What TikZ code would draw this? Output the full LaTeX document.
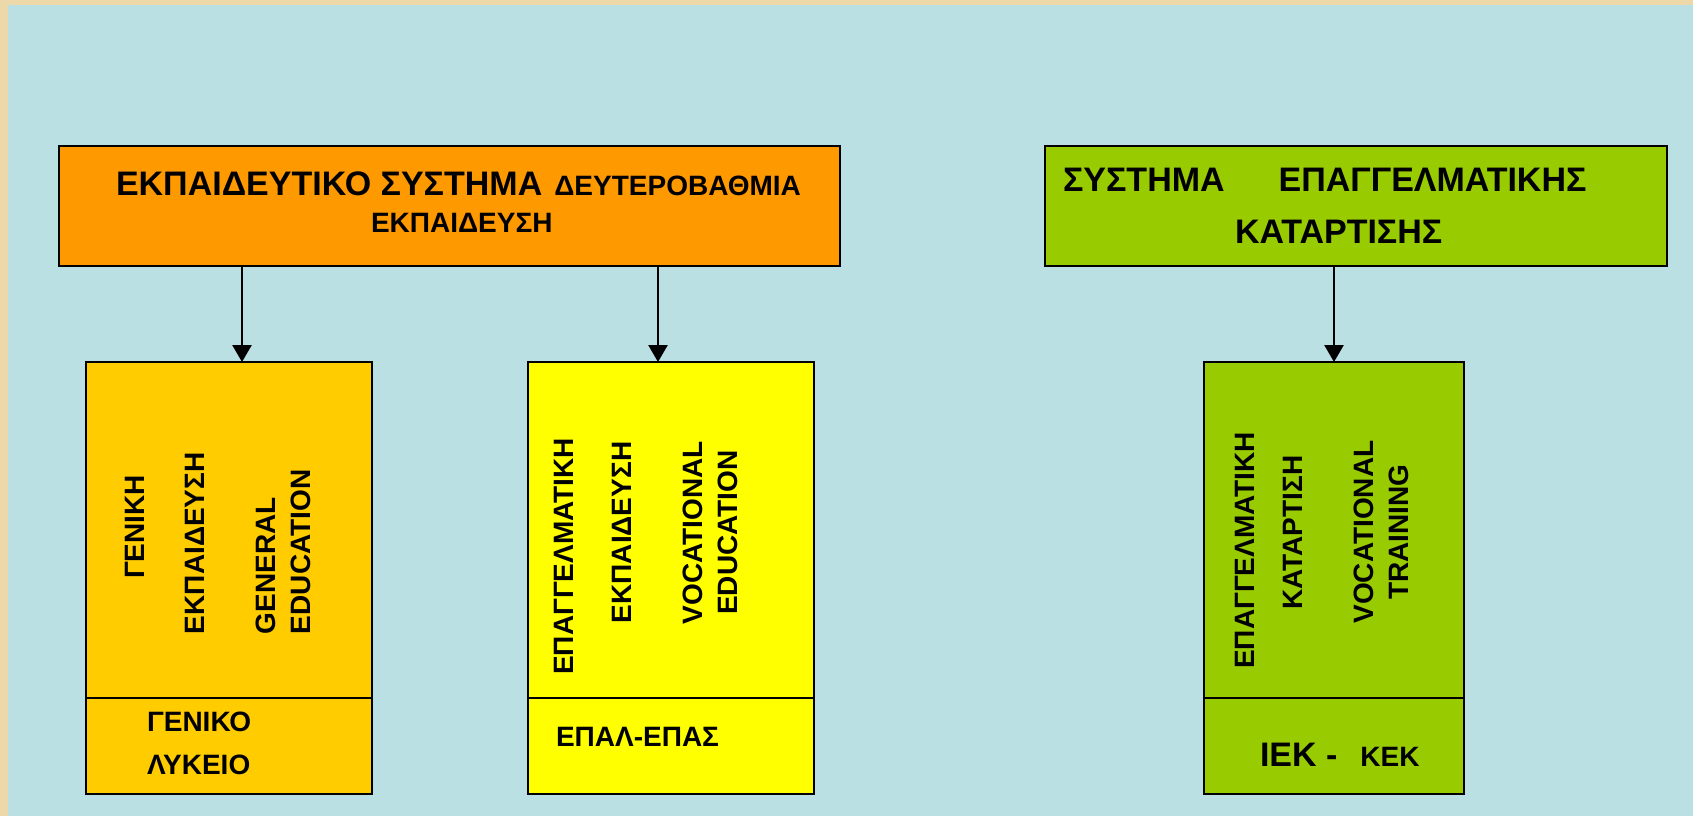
\documentclass[tikz,border=0pt]{standalone}
\usepackage{fontspec}
\setmainfont{Liberation Sans}
\usepackage{xcolor}
\usepackage{tikz}
\usetikzlibrary{positioning,arrows.meta}

\definecolor{beige}{HTML}{ECD8A9}
\definecolor{paleblue}{HTML}{BBE0E3}
\definecolor{orangebox}{HTML}{FF9900}
\definecolor{goldbox}{HTML}{FFCC00}
\definecolor{yellowbox}{HTML}{FFFF00}
\definecolor{greenbox}{HTML}{99CC00}

\begin{document}
\begin{tikzpicture}[>={Triangle[width=9.5pt,length=8.5pt]},x=0.5pt,y=-0.5pt,line width=1pt,node distance=0pt]
    \tikzstyle{box}=[draw=black,line width=1pt,inner sep=0pt,outer sep=0pt]
    \tikzstyle{big}=[inner sep=0pt,font=\bfseries\fontsize{17}{20}\selectfont]
    \tikzstyle{txt}=[inner sep=0pt,font=\bfseries\fontsize{14}{17.5}\selectfont]
    \tikzstyle{up}=[txt,rotate=90]
    % background
    \fill[beige] (0,0) rectangle (1693,816);
    \fill[paleblue] (8,5) rectangle (1693,816);
    \useasboundingbox (0,0) rectangle (1693,816);
    % top boxes
    \node[box,anchor=north west,fill=orangebox,minimum width=390.5pt,minimum height=60pt] (sys) at (59,146) {};
    \node[box,anchor=north west,fill=greenbox,minimum width=311pt,minimum height=60pt] (vsys) at (1045,146) {};
    \node[big,anchor=base west] (systa) at (115,195) {ΕΚΠΑΙΔΕΥΤΙΚΟ ΣΥΣΤΗΜΑ\hspace{6pt}{\fontsize{14}{17}\selectfont ΔΕΥΤΕΡΟΒΑΘΜΙΑ}};
    \node[txt,anchor=base west] (systb) at (370,232) {ΕΚΠΑΙΔΕΥΣΗ};
    \node[big,anchor=base west] (vsysta) at (1062,191) {ΣΥΣΤΗΜΑ\hspace{27pt}ΕΠΑΓΓΕΛΜΑΤΙΚΗΣ};
    \node[big,anchor=base west] (vsystb) at (1234,243) {ΚΑΤΑΡΤΙΣΗΣ};
    % lower boxes
    \node[box,anchor=north west,fill=goldbox,minimum width=143pt,minimum height=168pt] (gen) at (86,362) {};
    \node[box,fill=goldbox,minimum width=143pt,minimum height=48pt,below=of gen] (genb) {};
    \node[box,anchor=north west,fill=yellowbox,minimum width=143pt,minimum height=168pt] (voc) at (528,362) {};
    \node[box,fill=yellowbox,minimum width=143pt,minimum height=48pt,below=of voc] (vocb) {};
    \node[box,anchor=north west,fill=greenbox,minimum width=130pt,minimum height=168pt] (tr) at (1204,362) {};
    \node[box,fill=greenbox,minimum width=130pt,minimum height=48pt,below=of tr] (trb) {};
    % upright texts
    \node[up] (gena) at (135,527) {ΓΕΝΙΚΗ};
    \node[up,anchor=west] (genc) at (194.5,635) {ΕΚΠΑΙΔΕΥΣΗ};
    \node[up,anchor=west,align=left] (gend) at (283.5,635) {GENERAL\\EDUCATION};
    \node[up] (voca) at (564,556.5) {ΕΠΑΓΓΕΛΜΑΤΙΚΗ};
    \node[up] (vocc) at (622,532.5) {ΕΚΠΑΙΔΕΥΣΗ};
    \node[up,align=center] (vocd) at (710,532.5) {VOCATIONAL\\EDUCATION};
    \node[up] (tra) at (1244.5,550.5) {ΕΠΑΓΓΕΛΜΑΤΙΚΗ};
    \node[up] (trc) at (1293,532.5) {ΚΑΤΑΡΤΙΣΗ};
    \node[up,align=center] (trd) at (1381.5,532) {VOCATIONAL\\TRAINING};
    % school types
    \node[txt,anchor=north west,align=left,font=\bfseries\fontsize{14}{21.5}\selectfont] (lyk) at (146,711) {ΓΕΝΙΚΟ\\ΛΥΚΕΙΟ};
    \node[txt,anchor=base west] (epal) at (555,746) {ΕΠΑΛ-ΕΠΑΣ};
    \node[big,anchor=base west] (iek) at (1259,766) {ΙΕΚ -\hspace{11.5pt}{\fontsize{14}{17}\selectfont ΚΕΚ}};
    % arrows
    \coordinate (a1) at (242,0);
    \coordinate (a2) at (658,0);
    \coordinate (a3) at (1334,0);
\path[line width=1.3pt]
(sys.south -| a1) edge[->] (gen.north -| a1)
(sys.south -| a2) edge[->] (voc.north -| a2)
(vsys.south -| a3) edge[->] (tr.north -| a3);
\end{tikzpicture}
\end{document}
